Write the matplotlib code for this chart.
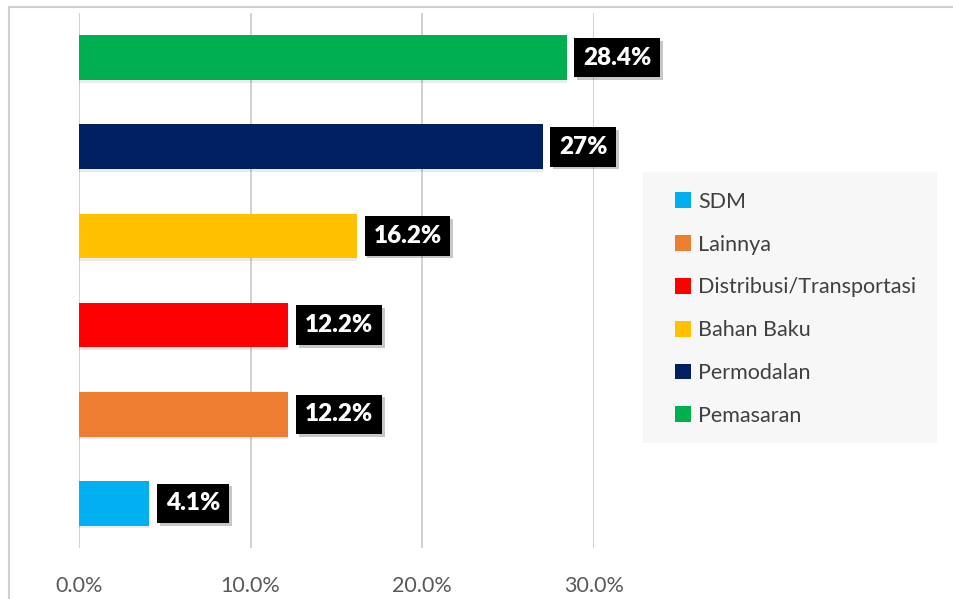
import matplotlib.pyplot as plt
import matplotlib.patheffects as pe
from matplotlib.patches import Patch, Rectangle
from matplotlib.ticker import FuncFormatter

plt.rcParams['font.family'] = ['Lato', 'DejaVu Sans']

categories = ['SDM', 'Lainnya', 'Distribusi/Transportasi', 'Bahan Baku', 'Permodalan', 'Pemasaran']
values = [4.1, 12.2, 12.2, 16.2, 27.0, 28.4]
labels = ['4.1%', '12.2%', '12.2%', '16.2%', '27%', '28.4%']
colors = ['#00b0f0', '#ed7d31', '#ff0000', '#ffc000', '#002060', '#00b050']
xticks = [0, 10, 20, 30]

fig = plt.figure(figsize=(9.54, 5.99), dpi=100)

# outer chart border (cropped on right and bottom)
fig.patches.append(Rectangle((9 / 954, -0.1), 1.2, 1 - 7 / 599 + 0.1,
                             transform=fig.transFigure, fill=False,
                             edgecolor='#d0d0d0', linewidth=1.5, zorder=0))

ax = fig.add_axes([79 / 954, 1 - 548 / 599, 515 / 954, 535 / 599])

y = list(range(len(categories)))
bars = ax.barh(y, values, height=0.5, color=colors, zorder=3)
for b in bars:
    b.set_path_effects([pe.withSimplePatchShadow(offset=(0, -2), shadow_rgbFace='black', alpha=0.08),
                        pe.Normal()])

ax.set_xlim(0, 30)
ax.set_ylim(-0.5, len(categories) - 0.5)
ax.set_xticks(xticks)
ax.xaxis.set_major_formatter(FuncFormatter(lambda v, p: f'{v:.1f}%'))
ax.set_yticks([])
ax.tick_params(axis='x', length=0, pad=20, labelsize=15.5, labelcolor='#595959')
ax.grid(axis='x', color='#c8c8c8', linewidth=1.2, zorder=0)
for s in ax.spines.values():
    s.set_visible(False)

for yi, v, lab in zip(y, values, labels):
    t = ax.text(v + 0.95, yi, lab, ha='left', va='center', color='white',
                fontsize=17.5, fontweight='heavy', zorder=5, clip_on=False,
                bbox=dict(boxstyle='square,pad=0.36', facecolor='black', edgecolor='none'))
    t.get_bbox_patch().set_path_effects([
        pe.withSimplePatchShadow(offset=(2, -2), shadow_rgbFace='black', alpha=0.22),
        pe.Normal()])

# legend background
fig.patches.append(Rectangle((643 / 954, 1 - 443 / 599), 294 / 954, 271 / 599,
                             transform=fig.transFigure, facecolor='#f7f7f7',
                             edgecolor='none', zorder=1))
handles = [Patch(facecolor=c, edgecolor='none') for c in colors]
leg = fig.legend(handles, categories, loc='upper left',
                 bbox_to_anchor=(664 / 954, 1 - 181 / 599), frameon=False,
                 fontsize=15.5, handlelength=0.75, handleheight=0.75,
                 handletextpad=0.32, labelspacing=1.06, borderpad=0,
                 labelcolor='#404040')
leg.set_zorder(2)

fig.savefig('out.png', dpi=100)
